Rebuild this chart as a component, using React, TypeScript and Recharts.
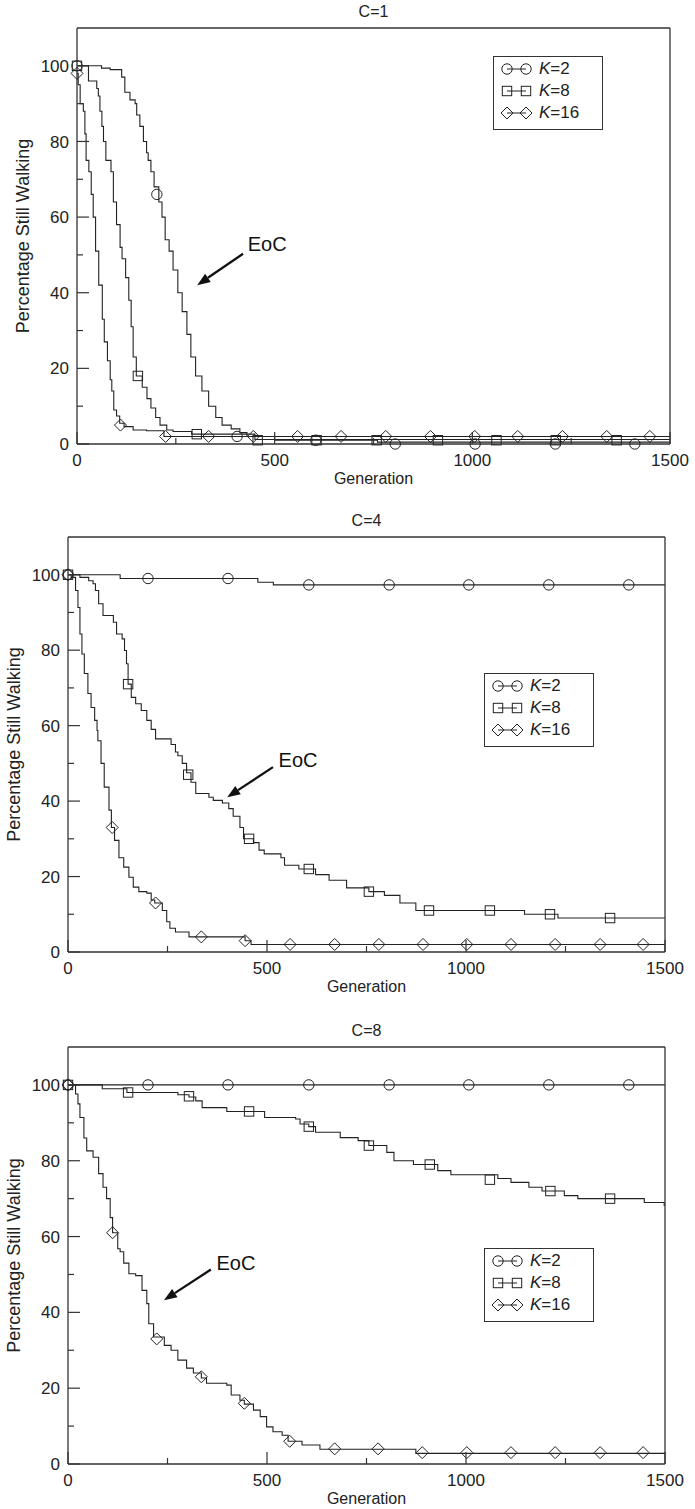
import React from "react";
import { ComposedChart, Line, Scatter, XAxis, YAxis, Label, ReferenceLine, ReferenceDot } from "recharts";

type Pt = [number, number];

// C=1 (step breakpoints [generation, percent], then marker positions)
const c1K2: Pt[] = [[0, 100], [62, 99.4], [84, 99], [113, 97], [121, 93], [134, 91], [147, 90], [151, 87], [159, 84], [168, 80], [176, 77], [180, 75], [187, 72], [195, 68], [207, 64], [215, 60], [223, 54], [233, 51], [243, 46], [255, 40], [266, 35], [278, 29], [288, 23], [300, 18], [316, 14], [333, 10], [351, 7], [367, 5], [390, 4], [412, 3], [430, 2], [500, 1], [760, 0.5], [1500, 0.5]];
const c1K2Marks: Pt[] = [[0, 100], [202, 66], [405, 2], [604, 1], [805, 0], [1007, 0], [1210, 0], [1411, 0]];
const c1K8: Pt[] = [[0, 100], [29, 96], [50, 94], [54, 92], [58, 88], [63, 84], [67, 80], [73, 75], [86, 72], [92, 64], [100, 58], [109, 52], [114, 49], [123, 44], [131, 38], [137, 31], [142, 23], [150, 18], [165, 15], [177, 12], [187, 9.5], [199, 7], [210, 5], [227, 3.7], [243, 3.3], [290, 2.6], [450, 1.2], [1500, 1.2]];
const c1K8Marks: Pt[] = [[0, 100], [154, 18], [303, 2.6], [457, 1], [606, 1], [758, 1], [913, 1], [1061, 1], [1211, 1], [1365, 1]];
const c1K16: Pt[] = [[0, 98], [3, 95], [8, 90], [16, 88], [20, 82], [23, 75], [30, 72], [36, 66], [41, 60], [47, 51], [55, 42], [64, 33], [69, 27], [77, 22], [84, 17], [88, 14], [93, 9], [100, 7.4], [108, 5.5], [119, 4.6], [142, 3.7], [176, 3.5], [220, 2], [1500, 2]];
const c1K16Marks: Pt[] = [[0, 98], [110, 5], [224, 2], [333, 2], [446, 2], [558, 2], [668, 2], [781, 2], [894, 2], [1006, 2], [1115, 2], [1228, 2], [1340, 2], [1449, 2]];

// C=4
const c4K2: Pt[] = [[0, 100], [131, 99], [477, 98], [516, 97.3], [1500, 97.3]];
const c4K2Marks: Pt[] = [[0, 100], [201, 99], [402, 99], [605, 97.3], [807, 97.3], [1007, 97.3], [1208, 97.3], [1409, 97.3]];
const c4K8: Pt[] = [[0, 100], [30, 99.3], [52, 98.4], [63, 97.6], [69, 95.8], [77, 92.3], [88, 89.2], [114, 87.4], [122, 84.3], [136, 83], [142, 79.9], [147, 76.4], [151, 71], [159, 67.5], [170, 65.8], [184, 64], [198, 61.4], [209, 59], [220, 56.5], [259, 55], [270, 53], [276, 52], [287, 50], [298, 47.5], [309, 45], [321, 42], [354, 41], [365, 40.2], [388, 39.5], [404, 38], [415, 36], [432, 33], [441, 30], [466, 29], [480, 27], [493, 26], [535, 25], [544, 23], [580, 22], [622, 20.5], [656, 19], [700, 17], [756, 16], [795, 15], [834, 13], [874, 11], [1147, 10], [1231, 9], [1500, 9]];
const c4K8Marks: Pt[] = [[0, 100], [151, 71], [302, 47], [455, 30], [605, 22], [756, 16], [907, 11], [1060, 11], [1211, 10], [1362, 9]];
const c4K16: Pt[] = [[0, 100], [8, 99.3], [19, 95.8], [25, 91.3], [30, 84.3], [35, 79], [41, 73.8], [50, 68.5], [58, 64.8], [67, 61.4], [73, 58.7], [75, 56], [83, 50], [91, 43.7], [103, 37.6], [109, 33], [117, 29.6], [128, 25], [140, 22.5], [153, 19.8], [164, 17.2], [178, 16], [198, 15.6], [209, 13.8], [218, 13], [237, 11], [248, 8], [256, 6.3], [270, 5.3], [304, 4], [445, 3], [460, 2], [1500, 2]];
const c4K16Marks: Pt[] = [[0, 100], [111, 33], [220, 13], [335, 4], [445, 3], [558, 2], [670, 2], [781, 2], [892, 2], [1002, 2], [1113, 2], [1224, 2], [1337, 2], [1445, 2]];

// C=8
const c8K2: Pt[] = [[0, 100], [1500, 100]];
const c8K2Marks: Pt[] = [[0, 100], [201, 100], [402, 100], [605, 100], [807, 100], [1007, 100], [1208, 100], [1409, 100]];
const c8K8: Pt[] = [[0, 100], [86, 99], [148, 98], [276, 97.4], [304, 96.8], [321, 95.8], [337, 94], [399, 93], [494, 91.4], [572, 91], [583, 89.7], [605, 89], [622, 87.5], [684, 86.1], [729, 85.3], [756, 84], [801, 82.2], [819, 80], [868, 79], [929, 77.4], [962, 76.3], [1080, 75.3], [1113, 74.3], [1158, 73], [1191, 72], [1247, 70.8], [1281, 70], [1448, 69], [1498, 68.2], [1500, 68.2]];
const c8K8Marks: Pt[] = [[0, 100], [151, 98], [304, 97], [455, 93], [605, 89], [756, 84], [909, 79], [1060, 75], [1212, 72], [1362, 70]];
const c8K16: Pt[] = [[0, 100], [19, 97.6], [25, 95], [30, 91.4], [40, 86], [47, 82.6], [63, 80.9], [77, 76.6], [88, 73], [97, 70], [106, 65], [112, 61], [125, 56.8], [131, 56], [140, 53], [153, 50.2], [170, 49.7], [186, 45.8], [198, 42.3], [203, 37], [215, 33.5], [242, 31.3], [259, 30], [276, 27.4], [298, 25.3], [315, 24], [335, 22.7], [348, 21.3], [399, 20.8], [410, 18.2], [432, 16.8], [443, 15.8], [466, 14.2], [483, 12.5], [499, 9.8], [515, 8.5], [538, 7.6], [553, 6], [588, 5], [633, 3.9], [874, 2.8], [1500, 2.8]];
const c8K16Marks: Pt[] = [[0, 100], [112, 61], [223, 33], [335, 23], [443, 16], [557, 6], [670, 4], [779, 4], [890, 3], [1002, 3], [1113, 3], [1224, 3], [1337, 3], [1445, 3]];

const xTicks = [0, 250, 500, 750, 1000, 1250, 1500];
const yTicks = [0, 10, 20, 30, 40, 50, 60, 70, 80, 90, 100];
const kLabels = ["2", "8", "16"];
const shapes = ["circle", "square", "diamond"];

const FONT = '"Liberation Sans", Arial, Helvetica, sans-serif';
const INK = "#222";
const AXIS = { stroke: "#333", strokeWidth: 1.3 };

const toPts = (a: Pt[]) => a.map(([x, y]) => ({ x, y }));

function Mark({ kind, cx, cy }: { kind: string; cx: number; cy: number }) {
  const s = { fill: "none", stroke: INK, strokeWidth: 1 };
  if (kind === "circle") return <circle cx={cx} cy={cy} r={5.2} {...s} />;
  if (kind === "square") return <rect x={cx - 4.7} y={cy - 4.7} width={9.4} height={9.4} {...s} />;
  return <polygon points={`${cx},${cy - 6} ${cx + 6},${cy} ${cx},${cy + 6} ${cx - 6},${cy}`} {...s} />;
}

const BottomTick = (p: any) => {
  const v = p.payload.value;
  const major = v % 500 === 0;
  return (
    <g>
      <line x1={p.x} x2={p.x} y1={p.y} y2={p.y - (major ? 12 : 6)} stroke="#333" strokeWidth={1.2} />
      {major && (
        <text x={p.x} y={p.y + 22} textAnchor="middle" fontSize={17} fontFamily={FONT} fill={INK}>{v}</text>
      )}
    </g>
  );
};
const TopTick = (p: any) => {
  const major = p.payload.value % 500 === 0;
  return <line x1={p.x} x2={p.x} y1={p.y} y2={p.y + (major ? 12 : 6)} stroke="#333" strokeWidth={1.2} />;
};
const LeftTick = (p: any) => {
  const v = p.payload.value;
  const major = v % 20 === 0;
  return (
    <g>
      <line x1={p.x} x2={p.x + (major ? 12 : 6)} y1={p.y} y2={p.y} stroke="#333" strokeWidth={1.2} />
      {major && (
        <text x={p.x - 8} y={p.y} dy="0.36em" textAnchor="end" fontSize={17} fontFamily={FONT} fill={INK}>{v}</text>
      )}
    </g>
  );
};
const RightTick = (p: any) => {
  const major = p.payload.value % 20 === 0;
  return <line x1={p.x} x2={p.x - (major ? 12 : 6)} y1={p.y} y2={p.y} stroke="#333" strokeWidth={1.2} />;
};

const XTitle = (p: any) => {
  const vb = p.viewBox;
  return <text x={vb.x + vb.width / 2} y={vb.y + 40} textAnchor="middle" fontSize={16} fontFamily={FONT} fill={INK}>Generation</text>;
};
const YTitle = (p: any) => {
  const vb = p.viewBox;
  const x = vb.x + 12;
  const y = vb.y + vb.height / 2;
  return (
    <text x={x} y={y} transform={`rotate(-90 ${x} ${y})`} textAnchor="middle" fontSize={18} fontFamily={FONT} fill={INK}>
      Percentage Still Walking
    </text>
  );
};
const makeTitle = (t: string) => (p: any) => {
  const vb = p.viewBox;
  return <text x={vb.x + vb.width / 2} y={vb.y - 10} textAnchor="middle" fontSize={16} fontFamily={FONT} fill={INK}>{t}</text>;
};

const Arrow = (p: any) => {
  const { x1, y1, x2, y2 } = p;
  const a = Math.atan2(y2 - y1, x2 - x1);
  const c = Math.cos(a), s = Math.sin(a);
  const L = 13, W = 5;
  const bx = x2 - L * c, by = y2 - L * s;
  return (
    <g>
      <line x1={x1} y1={y1} x2={bx} y2={by} stroke="#111" strokeWidth={2.3} />
      <polygon points={`${x2},${y2} ${bx + W * s},${by - W * c} ${bx - W * s},${by + W * c}`} fill="#111" />
    </g>
  );
};

function LegendBox({ left, top }: { left: number; top: number }) {
  return (
    <div style={{ position: "absolute", left, top, width: 110, height: 74, border: "1.3px solid #333", background: "#fff", boxSizing: "border-box", fontFamily: FONT, fontSize: 17, color: INK }}>
      {kLabels.map((k, i) => (
        <div key={k} style={{ position: "absolute", left: 0, top: 1 + i * 22, height: 22, display: "flex", alignItems: "center" }}>
          <svg width={45} height={22} style={{ display: "block" }}>
            <line x1={13} x2={32} y1={11} y2={11} stroke={INK} strokeWidth={1} />
            <Mark kind={shapes[i]} cx={13} cy={11} />
            <Mark kind={shapes[i]} cx={32} cy={11} />
          </svg>
          <span><i>K</i>={k}</span>
        </div>
      ))}
    </div>
  );
}

type Panel = {
  title: string;
  top: number;
  height: number;
  margin: { top: number; right: number; bottom: number; left: number };
  legend: { left: number; top: number };
  eocText: Pt;
  eocFrom: Pt;
  eocTo: Pt;
  series: { steps: Pt[]; marks: Pt[] }[];
};

// legend positions are page coordinates
const panels: Panel[] = [
  {
    title: "C=1", top: 0, height: 490,
    margin: { top: 27, right: 24, bottom: 6, left: 17 },
    legend: { left: 493, top: 56 },
    eocText: [481, 53], eocFrom: [420, 50.3], eocTo: [304, 42],
    series: [{ steps: c1K2, marks: c1K2Marks }, { steps: c1K8, marks: c1K8Marks }, { steps: c1K16, marks: c1K16Marks }],
  },
  {
    title: "C=4", top: 500, height: 500,
    margin: { top: 36, right: 29, bottom: 8, left: 8 },
    legend: { left: 484, top: 673 },
    eocText: [578, 51], eocFrom: [515, 49], eocTo: [400, 41],
    series: [{ steps: c4K2, marks: c4K2Marks }, { steps: c4K8, marks: c4K8Marks }, { steps: c4K16, marks: c4K16Marks }],
  },
  {
    title: "C=8", top: 1000, height: 509,
    margin: { top: 46, right: 29, bottom: 5, left: 8 },
    legend: { left: 484, top: 1248 },
    eocText: [422, 53], eocFrom: [359, 51.3], eocTo: [241, 43.2],
    series: [{ steps: c8K2, marks: c8K2Marks }, { steps: c8K8, marks: c8K8Marks }, { steps: c8K16, marks: c8K16Marks }],
  },
];

function PanelChart({ p }: { p: Panel }) {
  return (
    <div style={{ position: "absolute", left: 0, top: p.top, width: 695, height: p.height }}>
      <ComposedChart width={695} height={p.height} margin={p.margin}>
        <XAxis dataKey="x" type="number" domain={[0, 1500]} ticks={xTicks} interval={0} tickSize={0} tickMargin={0}
          tickLine={false} axisLine={AXIS} height={40} tick={BottomTick} label={<Label content={XTitle} />} />
        <XAxis xAxisId="top" orientation="top" type="number" domain={[0, 1500]} ticks={xTicks} interval={0} tickSize={0}
          tickMargin={0} tickLine={false} axisLine={AXIS} height={1} tick={TopTick} label={<Label content={makeTitle(p.title)} />} />
        <YAxis dataKey="y" type="number" domain={[0, 110]} ticks={yTicks} interval={0} tickSize={0} tickMargin={0}
          tickLine={false} axisLine={AXIS} width={60} tick={LeftTick} label={<Label content={YTitle} />} />
        <YAxis yAxisId="right" orientation="right" type="number" domain={[0, 110]} ticks={yTicks} interval={0} tickSize={0}
          tickMargin={0} tickLine={false} axisLine={AXIS} width={1} tick={RightTick} />
        {p.series.map((s, i) => (
          <Line key={`l${i}`} data={toPts(s.steps)} dataKey="y" type="stepAfter" stroke={INK} strokeWidth={1.1}
            dot={false} activeDot={false} isAnimationActive={false} />
        ))}
        {p.series.map((s, i) => (
          <Scatter key={`s${i}`} data={toPts(s.marks)} isAnimationActive={false}
            shape={(d: any) => <Mark kind={shapes[i]} cx={d.cx} cy={d.cy} />} />
        ))}
        <ReferenceLine segment={[{ x: p.eocFrom[0], y: p.eocFrom[1] }, { x: p.eocTo[0], y: p.eocTo[1] }]} shape={Arrow} />
        <ReferenceDot x={p.eocText[0]} y={p.eocText[1]} r={0}
          shape={(d: any) => (
            <text x={d.cx} y={d.cy} dy="0.36em" textAnchor="middle" fontSize={20} fontFamily={FONT} fill="#111">EoC</text>
          )} />
      </ComposedChart>
      <LegendBox left={p.legend.left} top={p.legend.top - p.top} />
    </div>
  );
}

export default function App() {
  return (
    <div style={{ position: "absolute", left: 0, top: 0, width: 695, height: 1509, background: "#fff" }}>
      {panels.map((p) => (
        <PanelChart key={p.title} p={p} />
      ))}
    </div>
  );
}
